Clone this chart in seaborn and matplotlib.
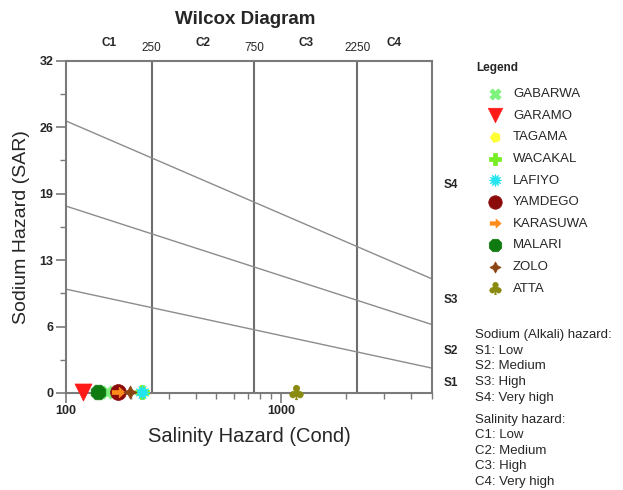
import numpy as np
import pandas as pd
import matplotlib
matplotlib.use("Agg")
import matplotlib.pyplot as plt
from matplotlib.ticker import FixedLocator, NullFormatter, FixedFormatter
import seaborn as sns

# ---- data ----
sites = ["GABARWA", "GARAMO", "TAGAMA", "WACAKAL", "LAFIYO",
         "YAMDEGO", "KARASUWA", "MALARI", "ZOLO", "ATTA"]
cond = [155, 120, 225, 225, 225, 174, 174, 141, 198, 1170]
sar = [0.1, 0.1, 0.1, 0.1, 0.1, 0.1, 0.1, 0.1, 0.1, 0.1]
colors = ["#7df27d", "#ff1a1a", "#ffff33", "#77ee22", "#22e5f0",
          "#8b0a0a", "#ff8c1a", "#0f7a0f", "#8b4513", "#8a8a10"]

bound_x = [100, 5000]
s12 = [10.0, 2.4]
s23 = [18.0, 6.6]
s34 = [26.2, 11.0]
class_lines = [250, 750, 2250]
c_labels = ["C1", "C2", "C3", "C4"]
c_pos = [158, 433, 1300, 3354]
s_labels = ["S1", "S2", "S3", "S4"]
s_pos = [1.0, 4.0, 9.0, 20.0]
y_ticks = [0, 6.4, 12.8, 19.2, 25.6, 32]
y_ticklabels = ["0", "6", "13", "19", "26", "32"]

sns.set_theme(style="white")
plt.rcParams["font.family"] = ["Liberation Sans", "DejaVu Sans"]

arrow = [(-1, 0.3), (0.1, 0.3), (0.1, 0.8), (1, 0), (0.1, -0.8), (0.1, -0.3), (-1, -0.3)]
markers = ["X", "v", (5, 0, 90), "P", (12, 1, 0), "o", arrow, "8", (4, 1, 0), "$\u2663$"]
sizes = [90, 150, 80, 110, 110, 130, 90, 130, 90, 110]

fig = plt.figure(figsize=(6.23, 4.9), dpi=100)
ax = fig.add_axes([0.106, 0.198, 0.587, 0.678])

gray = "#7a7a7a"
for y in (s12, s23, s34):
    sns.lineplot(x=bound_x, y=y, ax=ax, color="#8c8c8c", lw=1.0)
for xv in class_lines:
    ax.axvline(xv, color="#6e6e6e", lw=1.5, zorder=1)

df = pd.DataFrame({"site": sites, "cond": cond, "sar": sar})
for i, row in df.iterrows():
    sns.scatterplot(x=[row["cond"]], y=[row["sar"]], ax=ax, marker=markers[i],
                    color=colors[i], s=sizes[i], label=row["site"],
                    edgecolor=colors[i], linewidth=0.5, clip_on=False, zorder=5)

ax.set_xscale("log")
ax.set_xlim(100, 5000)
ax.set_ylim(0, 32)

ax.xaxis.set_major_locator(FixedLocator([100, 1000]))
ax.xaxis.set_major_formatter(FixedFormatter(["100", "1000"]))
ax.xaxis.set_minor_locator(FixedLocator([200, 300, 400, 500, 600, 700, 800, 900,
                                         2000, 3000, 4000, 5000]))
ax.xaxis.set_minor_formatter(NullFormatter())
ax.set_yticks(y_ticks)
ax.set_yticklabels(y_ticklabels)
ax.yaxis.set_minor_locator(FixedLocator([3.2, 9.6, 16.0, 22.4, 28.8]))
ax.tick_params(axis="both", which="major", direction="out", length=7, width=1.2,
               color=gray, labelsize=9, bottom=True, left=True, pad=2)
ax.tick_params(axis="both", which="minor", direction="out", length=4, width=1.0,
               color=gray, bottom=True, left=True)
for lab in ax.get_xticklabels() + ax.get_yticklabels():
    lab.set_fontweight("bold")

for sp in ax.spines.values():
    sp.set_color(gray)
    sp.set_linewidth(1.5)

ax.set_xlabel("Salinity Hazard (Cond)", fontsize=14.5, labelpad=7)
ax.set_ylabel("Sodium Hazard (SAR)", fontsize=14, labelpad=7)

trans_top = ax.get_xaxis_transform()
for lab, xv in zip(c_labels, c_pos):
    ax.text(xv, 1.054, lab, transform=trans_top, ha="center", va="center",
            fontsize=8.5, fontweight="bold")
for xv in class_lines:
    ax.text(xv, 1.039, str(xv), transform=trans_top, ha="center", va="center",
            fontsize=8.5)
trans_right = ax.get_yaxis_transform()
for lab, yv in zip(s_labels, s_pos):
    ax.text(1.052, yv, lab, transform=trans_right, ha="center", va="center",
            fontsize=8.5, fontweight="bold")

fig.text(0.393, 0.961, "Wilcox Diagram", ha="center", va="center",
         fontsize=13.5, fontweight="bold")

fig.text(0.764, 0.862, "Legend", ha="left", va="center", fontsize=8.5, fontweight="bold")
leg = ax.legend(loc="upper left", bbox_to_anchor=(1.123, 0.934), frameon=False,
                prop={"size": 9.5},
                labelspacing=0.71, handletextpad=0.35, borderaxespad=0,
                markerscale=0.85)

fig.text(0.762, 0.329, "Sodium (Alkali) hazard:\nS1: Low\nS2: Medium\nS3: High\nS4: Very high",
         ha="left", va="top", fontsize=9.5, linespacing=1.42)
fig.text(0.762, 0.156, "Salinity hazard:\nC1: Low\nC2: Medium\nC3: High\nC4: Very high",
         ha="left", va="top", fontsize=9.5, linespacing=1.4)

fig.savefig("out.png", dpi=100)
